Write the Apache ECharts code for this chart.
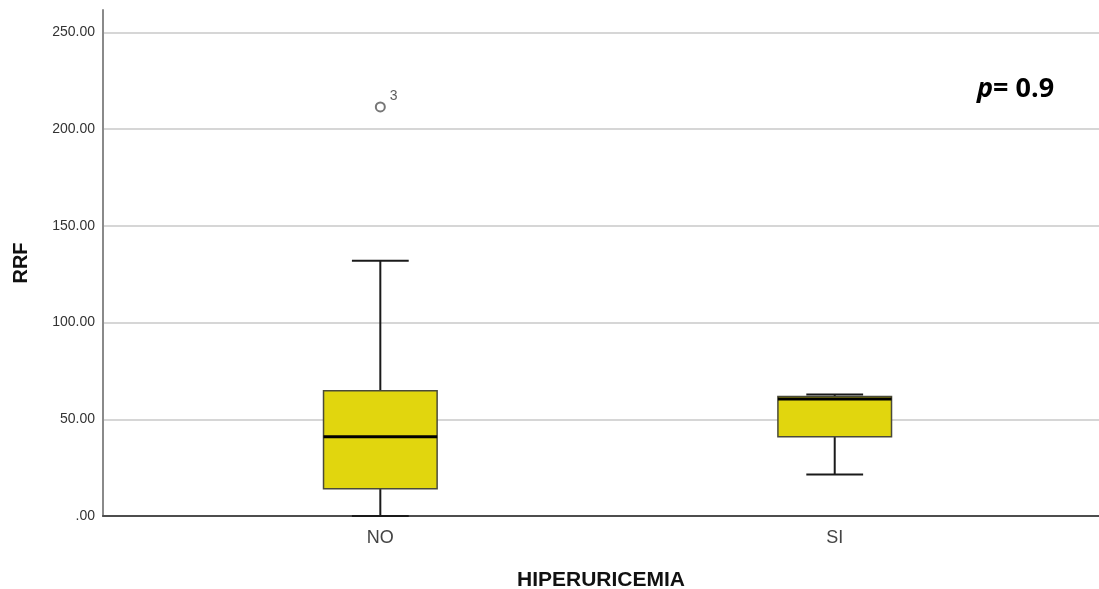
<!DOCTYPE html>
<html>
<head>
<meta charset="utf-8">
<script src="https://cdn.jsdelivr.net/npm/echarts@6/dist/echarts.min.js"></script>
<style>
  html, body { margin: 0; padding: 0; background: #fff; }
  #chart { width: 1099px; height: 589px; }
</style>
</head>
<body>
<div id="chart"></div>
<script>
// Box-plot summary of RRF by HIPERURICEMIA group
const categories = ['NO', 'SI'];
const whiskerLow = [0, 21.5];
const quartile1 = [14.1, 41.0];
const medians = [41.0, 60.5];
const quartile3 = [64.8, 61.8];
const whiskerHigh = [131.9, 62.8];
// Outliers: [category position, value, case id]
const outliers = [[1, 211.5, '3']];
const yTicks = [0, 50, 100, 150, 200, 250];

const boxData = categories.map((c, i) => [i + 1, whiskerLow[i], quartile1[i], medians[i], quartile3[i], whiskerHigh[i]]);

function renderBox(params, api) {
  const x = api.value(0);
  const lo = api.coord([x, api.value(1)]);
  const q1 = api.coord([x, api.value(2)]);
  const md = api.coord([x, api.value(3)]);
  const q3 = api.coord([x, api.value(4)]);
  const hi = api.coord([x, api.value(5)]);
  const boxW = api.size([0.25, 0])[0];
  const capW = boxW / 2;
  const cx = lo[0];
  const lineStyle = { stroke: '#1a1a1a', lineWidth: 2 };
  return {
    type: 'group',
    children: [
      { type: 'line', shape: { x1: cx, y1: lo[1], x2: cx, y2: q1[1] }, style: lineStyle },
      { type: 'line', shape: { x1: cx, y1: q3[1], x2: cx, y2: hi[1] }, style: lineStyle },
      { type: 'line', shape: { x1: cx - capW / 2, y1: lo[1], x2: cx + capW / 2, y2: lo[1] }, style: lineStyle },
      { type: 'line', shape: { x1: cx - capW / 2, y1: hi[1], x2: cx + capW / 2, y2: hi[1] }, style: lineStyle },
      { type: 'rect', shape: { x: cx - boxW / 2, y: q3[1], width: boxW, height: q1[1] - q3[1] },
        style: { fill: '#e1d60e', stroke: '#4a4a3a', lineWidth: 1.5 } },
      { type: 'line', shape: { x1: cx - boxW / 2, y1: md[1], x2: cx + boxW / 2, y2: md[1] },
        style: { stroke: '#000', lineWidth: 3 } }
    ]
  };
}

const chart = echarts.init(document.getElementById('chart'), null, { renderer: 'canvas' });
chart.setOption({
  animation: false,
  backgroundColor: '#fff',
  grid: { left: 103, right: 0, top: 10, bottom: 73, containLabel: false, outerBoundsMode: 'none' },
  xAxis: {
    type: 'value',
    min: 0.3897,
    max: 2.5816,
    splitLine: { show: false },
    axisTick: { show: false },
    axisLine: { show: true, lineStyle: { color: '#4d4d4d', width: 2 } },
    axisLabel: {
      customValues: categories.map((c, i) => i + 1),
      formatter: v => categories[Math.round(v) - 1] || '',
      fontFamily: 'Liberation Sans', fontSize: 18, color: '#444', margin: 13
    },
    name: 'HIPERURICEMIA',
    nameLocation: 'middle',
    nameGap: 54,
    nameTextStyle: { fontFamily: 'Liberation Sans', fontSize: 21, fontWeight: 'bold', color: '#111' }
  },
  yAxis: {
    type: 'value',
    min: 0,
    max: 261.6,
    interval: 50,
    axisLine: { show: true, lineStyle: { color: '#8a8a8a', width: 2 } },
    axisTick: { show: false },
    splitLine: { show: true, showMinLine: false, showMaxLine: false, lineStyle: { color: '#d6d6d6', width: 2 } },
    axisLabel: {
      customValues: yTicks,
      formatter: v => (v === 0 ? '.00' : v.toFixed(2)),
      fontFamily: 'Liberation Sans', fontSize: 14, color: '#333', margin: 8
    },
    name: 'RRF',
    nameLocation: 'middle',
    nameRotate: 90,
    nameGap: 72,
    nameTextStyle: { fontFamily: 'Liberation Sans', fontSize: 20, fontWeight: 'bold', color: '#111' }
  },
  graphic: [{
    type: 'text',
    left: 977,
    top: 76,
    style: {
      text: '{i|p}{b|= 0.9}',
      rich: {
        i: { fontFamily: 'Open Sans', fontSize: 27, fontWeight: 'bold', fontStyle: 'italic', fill: '#000' },
        b: { fontFamily: 'Open Sans', fontSize: 27, fontWeight: 'bold', fill: '#000' }
      }
    }
  }],
  series: [
    {
      type: 'custom',
      renderItem: renderBox,
      data: boxData,
      encode: { x: 0, y: [1, 2, 3, 4, 5] },
      z: 3
    },
    {
      type: 'scatter',
      data: outliers,
      symbol: 'emptyCircle',
      symbolSize: 9,
      itemStyle: { color: '#555', borderColor: '#555', borderWidth: 1.3 },
      label: {
        show: true,
        formatter: p => p.data[2],
        position: 'right',
        offset: [-1, -11],
        fontFamily: 'Liberation Sans', fontSize: 14, color: '#333'
      },
      z: 4
    }
  ]
});
</script>
</body>
</html>
